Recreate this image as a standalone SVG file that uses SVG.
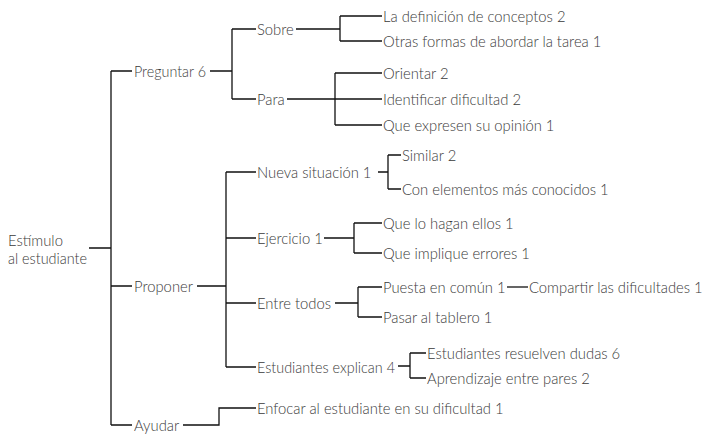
<svg xmlns="http://www.w3.org/2000/svg" width="714" height="435" viewBox="0 0 714 435">
<style>
text{font-family:"Lato","Open Sans","Liberation Sans",sans-serif;font-weight:300;font-size:14.8px;fill:#3a3a3a}
.c path{fill:none;stroke:#111;stroke-width:1.3}
</style>
<rect width="714" height="435" fill="#fff"/>
<g class="c" id="connectors">
<path d="M89,248H111M111,71V425M111,71H132M111,286H132M111,425H132"/>
<path d="M210,71H232M232,29V99M232,29H256M232,99H256"/>
<path d="M296,29H340M340,16V41M340,16H382M340,41H382"/>
<path d="M287,99H382M335,73V125M335,73H382M335,125H382"/>
<path d="M197,286H226M226,172V367M226,172H256M226,238H256M226,303H256M226,367H256"/>
<path d="M378,172H388M388,155V189M388,155H401M388,189H401"/>
<path d="M324,238H354M354,223V253M354,223H382M354,253H382"/>
<path d="M335,303H358M358,287V317M358,287H382M358,317H382"/>
<path d="M507,287H528"/>
<path d="M398,366H410M410,353V378M410,353H426M410,378H426"/>
<path d="M183,425H219V408H256"/>
</g>
<g id="n-root"><text x="8" y="245.5">Estímulo</text><text x="8" y="263.5" textLength="79" lengthAdjust="spacingAndGlyphs">al estudiante</text></g>
<g id="n-preguntar"><text x="134" y="76.5" textLength="72" lengthAdjust="spacingAndGlyphs">Preguntar 6</text></g>
<g id="n-proponer"><text x="134" y="291.5">Proponer</text></g>
<g id="n-ayudar"><text x="134" y="430.5">Ayudar</text></g>
<g id="n-sobre"><text x="257" y="34.5">Sobre</text></g>
<g id="n-para"><text x="257" y="104.5">Para</text></g>
<g id="n-definicion"><text x="383" y="21.5">La definición de conceptos 2</text></g>
<g id="n-otras"><text x="383" y="46.5">Otras formas de abordar la tarea 1</text></g>
<g id="n-orientar"><text x="383" y="78.5">Orientar 2</text></g>
<g id="n-identificar"><text x="383" y="104.5">Identificar dificultad 2</text></g>
<g id="n-opinion"><text x="383" y="130.5">Que expresen su opinión 1</text></g>
<g id="n-nueva"><text x="257" y="177.5">Nueva situación 1</text></g>
<g id="n-similar"><text x="402" y="160.5">Similar 2</text></g>
<g id="n-conelementos"><text x="402" y="194.5">Con elementos más conocidos 1</text></g>
<g id="n-ejercicio"><text x="257" y="243.5">Ejercicio 1</text></g>
<g id="n-hagan"><text x="383" y="228.5">Que lo hagan ellos 1</text></g>
<g id="n-errores"><text x="383" y="258.5">Que implique errores 1</text></g>
<g id="n-entretodos"><text x="257" y="308.5">Entre todos</text></g>
<g id="n-puesta"><text x="383" y="292.5">Puesta en común 1</text></g>
<g id="n-compartir"><text x="529" y="292.5">Compartir las dificultades 1</text></g>
<g id="n-tablero"><text x="383" y="322.5">Pasar al tablero 1</text></g>
<g id="n-explican"><text x="257" y="372.5" textLength="138" lengthAdjust="spacingAndGlyphs">Estudiantes explican 4</text></g>
<g id="n-resuelven"><text x="427" y="358.5">Estudiantes resuelven dudas 6</text></g>
<g id="n-pares"><text x="427" y="383.5">Aprendizaje entre pares 2</text></g>
<g id="n-enfocar"><text x="257" y="413.5">Enfocar al estudiante en su dificultad 1</text></g>
</svg>
